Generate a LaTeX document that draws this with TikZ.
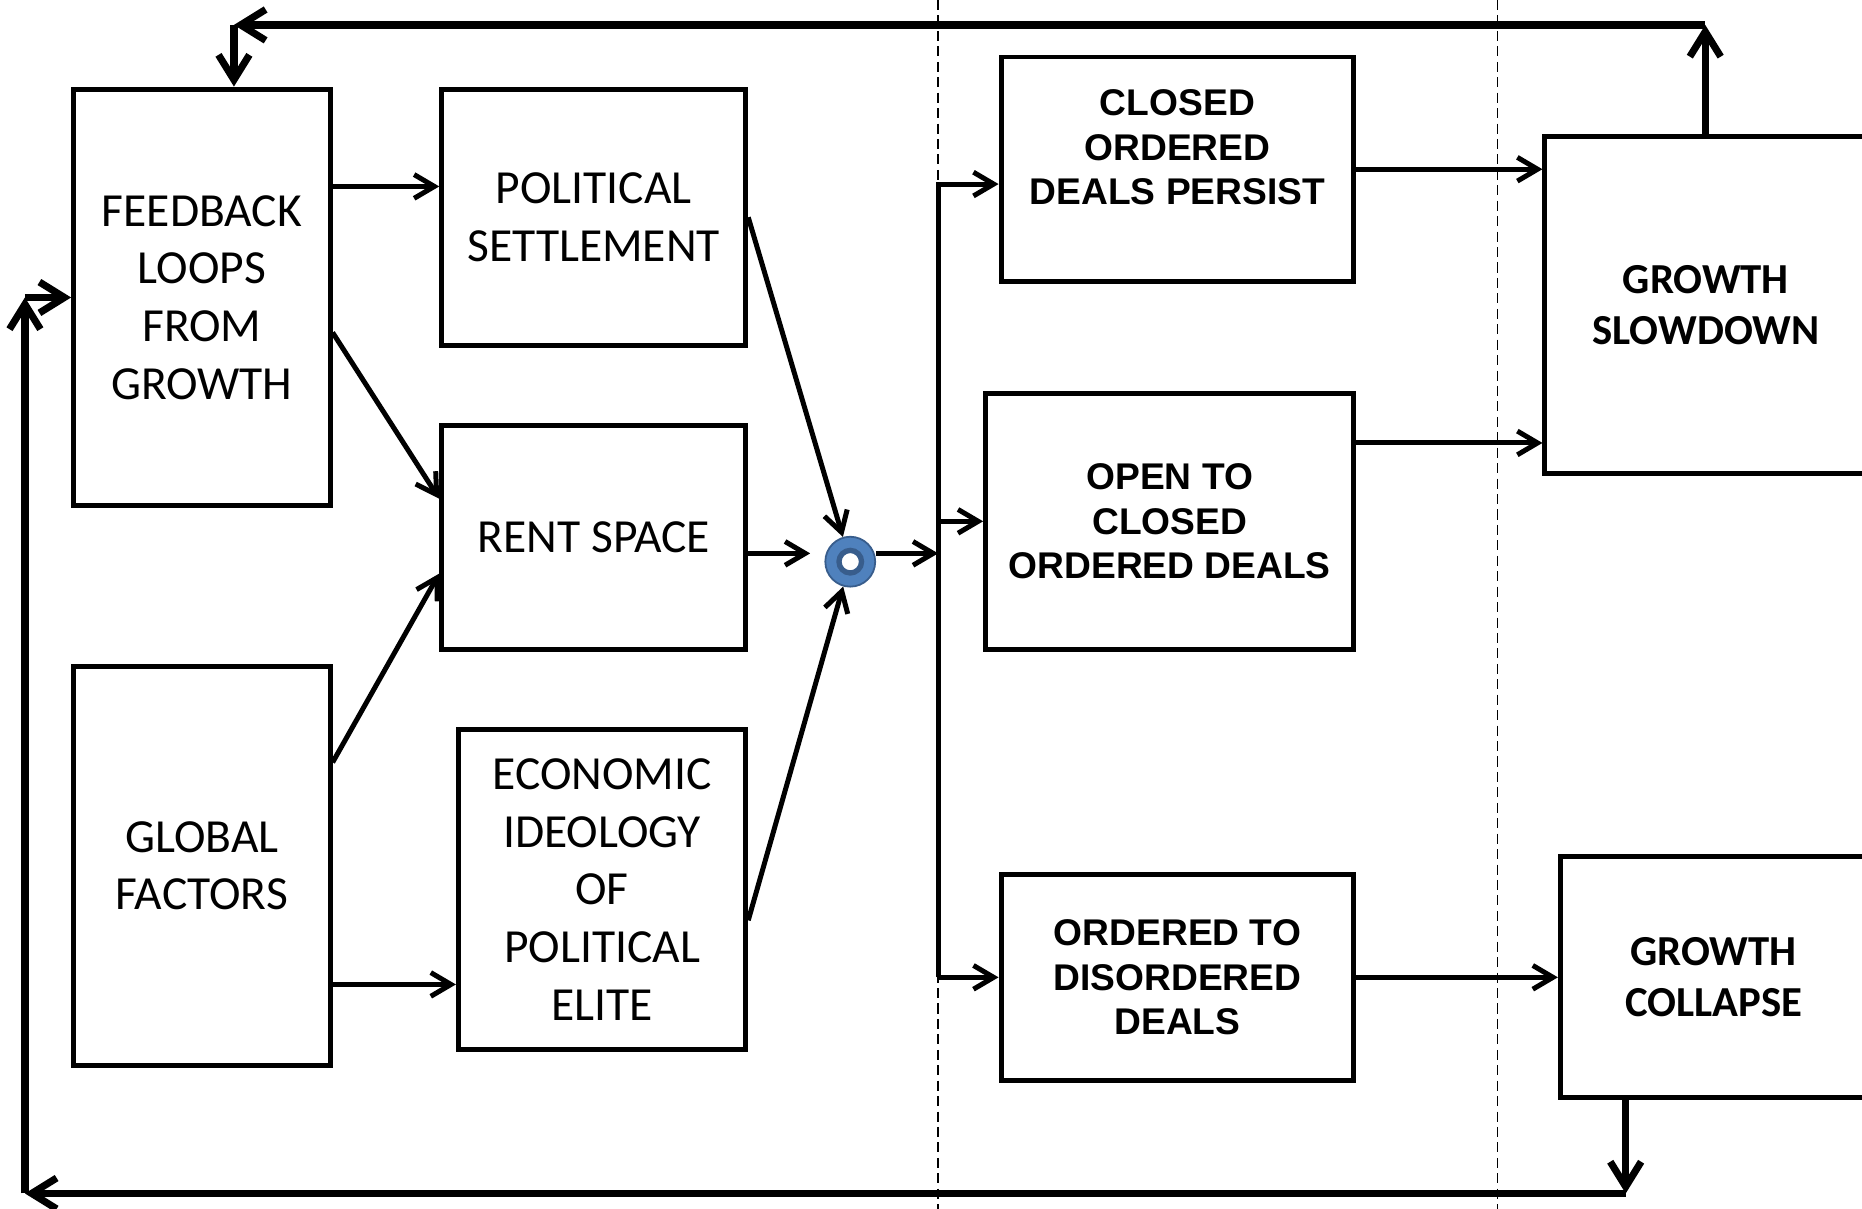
\documentclass[tikz,border=0pt]{standalone}
\usepackage{fontspec}
\setmainfont{Carlito}
\newfontfamily\dealfont{Liberation Sans}
\usetikzlibrary{arrows.meta}
\definecolor{hubBlue}{RGB}{79,129,189}
\definecolor{hubBlueDark}{RGB}{56,93,140}

\begin{document}
\begin{tikzpicture}[x=1pt,y=-1pt,
  factorbox/.style={draw,line width=4.2pt,inner sep=0pt,align=center,font=\fontsize{40}{48.5}\selectfont},
  dealtext/.style={align=center,font=\dealfont\bfseries\fontsize{31.3}{37.5}\selectfont},
  dealbox/.style={draw,line width=4.2pt,inner sep=0pt,dealtext},
  resultbox/.style={draw,line width=4.2pt,inner sep=0pt,align=center,font=\bfseries\fontsize{36}{43}\selectfont},
  arr/.style={line width=4.2pt,-{Straight Barb[length=17pt,width=20pt]}},
  fbarr/.style={line width=6pt,-{Straight Barb[length=21pt,width=26pt]}},
  divider/.style={line width=1.3pt,dash pattern=on 8.5pt off 4.5pt}]
\useasboundingbox (0,0) rectangle (1568,1018);
% stage dividers
\draw[divider] (790,0) -- (790,1018);
\draw[divider] (1261,0) -- (1261,1018);

% drivers
\node[factorbox,minimum width=216pt,minimum height=351pt] (fb) at (170,250.5) {FEEDBACK\\LOOPS\\FROM\\GROWTH};
\node[factorbox,minimum width=216pt,minimum height=336pt] (glob) at (170,729) {GLOBAL\\FACTORS};
\node[factorbox,minimum width=256pt,minimum height=216pt] (pol) at (500,183) {POLITICAL\\SETTLEMENT};
\node[factorbox,minimum width=256pt,minimum height=189pt] (rent) at (500,452.5) {RENT SPACE};
\node[factorbox,minimum width=242pt,minimum height=270pt] (eco) at (507,749) {ECONOMIC\\IDEOLOGY\\OF\\POLITICAL\\ELITE};

% junction
\node[circle,minimum size=42pt,inner sep=0pt,fill=hubBlue,draw=hubBlueDark,line width=1.5pt] (hub) at (716,473) {};
\fill[white,draw=hubBlueDark,line width=4.5pt] (hub) circle (9.5pt);

% deals
\node[dealbox,minimum width=297pt,minimum height=189pt,
  label={[dealtext,yshift=18.5pt]center:CLOSED\\ORDERED\\DEALS PERSIST}] (closed) at (991.5,142.5) {};
\node[dealbox,minimum width=310pt,minimum height=216pt] (open) at (985,439) {OPEN TO\\CLOSED\\ORDERED DEALS};
\node[dealbox,minimum width=297pt,minimum height=174pt] (dis) at (991.5,823) {ORDERED TO\\DISORDERED\\DEALS};

% outcomes
\node[resultbox,minimum width=271pt,minimum height=284pt] (slow) at (1436.5,257) {GROWTH\\SLOWDOWN};
\node[resultbox,minimum width=258pt,minimum height=203pt] (coll) at (1443,822.5) {GROWTH\\COLLAPSE};

% drivers into junction
\draw[arr] ([yshift=26pt]pol.west -| fb.east) -- ([yshift=26pt]pol.west);
\draw[arr] ([yshift=-29.5pt]fb.east) -- ([yshift=32.5pt]rent.west);
\draw[arr] ([yshift=87pt]glob.east) -- ([yshift=-30.5pt]rent.west);
\draw[arr] ([yshift=-80pt]eco.west -| glob.east) -- ([yshift=-80pt]eco.west);
\draw[arr] (pol.east) -- (hub);
\draw[arr,shorten >=12pt] ([yshift=-13.5pt]rent.east) -- ([yshift=-13.5pt]rent.east -| hub.west);
\draw[arr] ([yshift=-26pt]eco.east) -- (hub);

% bus to deals
\coordinate (bbot) at (790,823);
\draw[arr] ([yshift=7pt]hub.east) -- ([yshift=7pt]hub.east -| bbot);
\draw[arr] (bbot) |- ([yshift=-12.5pt]closed.west);
\draw[arr] (open.west -| bbot) -- (open.west);
\draw[arr] (bbot) -- (dis.west);

% deals to outcomes
\draw[arr] (closed.east) -- (closed.east -| slow.west);
\draw[arr] ([yshift=66pt]open.east) -- ([yshift=66pt]open.east -| slow.west);
\draw[arr] (dis.east) -- (dis.east -| coll.west);

% feedback loops
\coordinate (slowup) at (1436,21);
\coordinate (fbdown) at (197,21);
\coordinate (colldown) at (1369,1005);
\coordinate (fbup) at (21,1005);
\coordinate (fbin) at (21,250.5);
\draw[fbarr] (slowup |- slow.north) -- (slowup);
\draw[fbarr] (slowup) -- (fbdown);
\draw[fbarr] (fbdown) -- (fbdown |- fb.north);
\draw[fbarr] (colldown |- coll.south) -- (colldown);
\draw[fbarr] (colldown) -- (fbup);
\draw[fbarr] (fbup) -- (fbin);
\draw[fbarr] (fbin) -- (fb.west);
\end{tikzpicture}
\end{document}
